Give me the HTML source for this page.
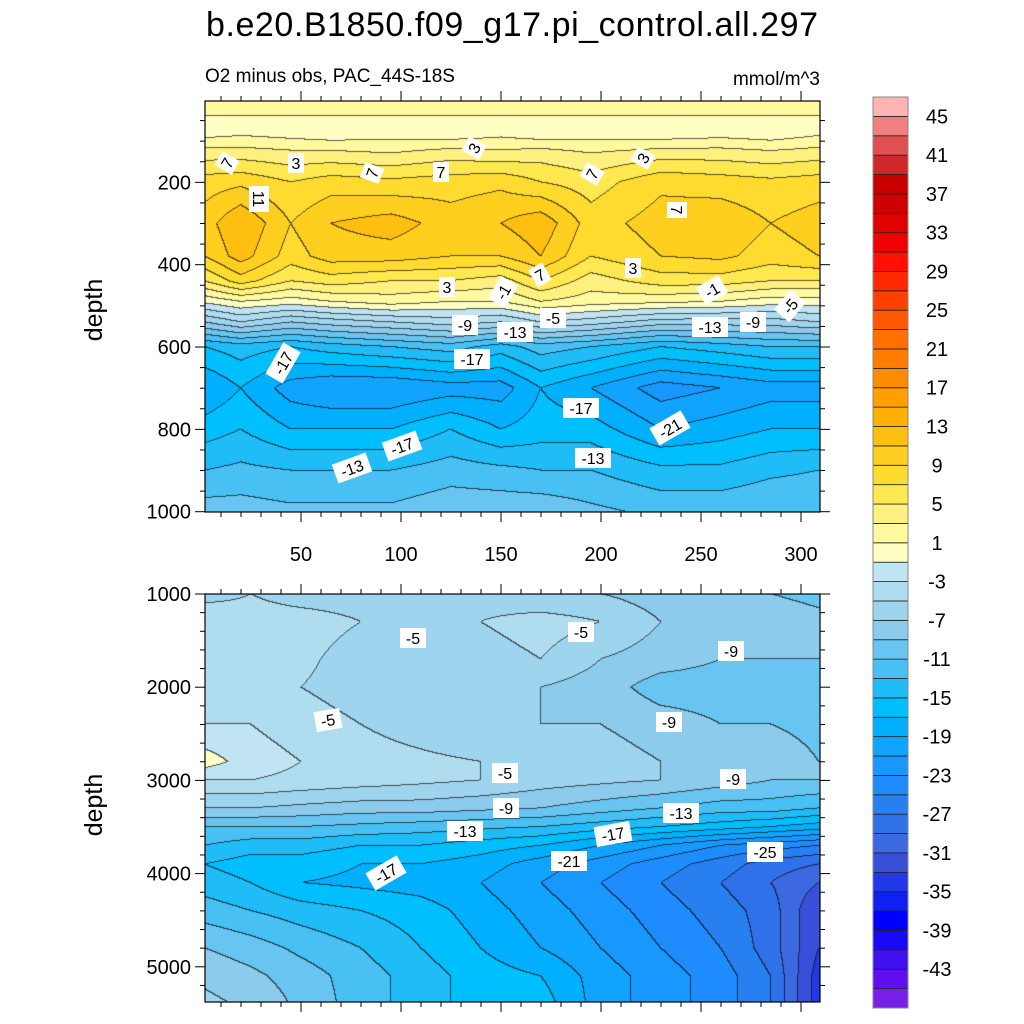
<!DOCTYPE html>
<html><head><meta charset="utf-8"><style>
html,body{margin:0;padding:0;background:#fff;width:1024px;height:1024px;overflow:hidden}
#wrap{position:relative;width:1024px;height:1024px}
canvas{position:absolute}
svg{position:absolute;left:0;top:0}
text{font-family:"Liberation Sans",sans-serif;fill:#000}
</style></head><body>
<div id="wrap">
<canvas id="c1" width="615" height="411" style="left:205px;top:101px"></canvas>
<canvas id="c2" width="615" height="408" style="left:205px;top:594px"></canvas>
<svg id="s" width="1024" height="1024">
<text x="512" y="36" font-size="34" text-anchor="middle" textLength="612">b.e20.B1850.f09_g17.pi_control.all.297</text>
<text x="205" y="82" font-size="19">O2 minus obs, PAC_44S-18S</text>
<text x="820" y="85" font-size="19" text-anchor="end">mmol/m^3</text>
<text transform="translate(102,310) rotate(-90)" font-size="25" text-anchor="middle">depth</text>
<text transform="translate(102,805) rotate(-90)" font-size="25" text-anchor="middle">depth</text>
</svg>
</div>
<script>
// ---- data ----
const levelColors = ["#7820e8","#6010f0","#4010f0","#1a08f8","#0000ff","#1020f0","#2038e8","#3850d8","#3c68e0","#3070e8","#2880f0","#1e8cff","#1898ff","#10a4ff","#00b0ff","#00bfff","#20bcf8","#48c0f4","#68c4f0","#8ccbec","#9fd4ee","#b0dcf0","#c0e4f4","#ffffc4","#fffaa0","#fff080","#ffe850","#ffdb30","#ffcf20","#ffbf10","#ffb000","#ffa000","#ff8c00","#ff7c00","#ff7000","#ff5800","#ff4000","#ff2800","#ff1000","#f00000","#e00000","#d00000","#c80000","#d02828","#e05050","#f08080","#ffb4b4"];
const cbLabels = [45,41,37,33,29,25,21,17,13,9,5,1,-3,-7,-11,-15,-19,-23,-27,-31,-35,-39,-43];
const xTicks = [50,100,150,200,250,300];
const topDepthTicks = [200,400,600,800,1000];
const botDepthTicks = [1000,2000,3000,4000,5000];

const topX = [2,20,45,65,95,125,150,170,195,230,260,285,309];
const topD = [0,40,80,130,200,300,380,440,490,540,600,700,800,900,1000];
const topV = [
[2,2,2,2,2,2,2,2,2,2,2,2,2],
[1,1,1,1,1,1,1,1,1,1,1,1,1],
[0,0.5,0,-0.5,0,-0.5,0.3,-0.5,0,-0.5,0,-0.5,0.5],
[4,4,3.5,3.5,3,4,3.5,4,3,4,4,3.5,4],
[8,8.5,7,8,7.5,8,8.5,7,6,8.5,8,7.5,8],
[10,13,9,11,12,10,11,12.5,8,10,10.5,9,10],
[9,12,8,10,10,9,9,11,7,9,9.5,8,9],
[5,8,5,6,5,5,4,7,4,6,6,5,5],
[-0.5,1,0,1,2,1,1,3,2,1.5,1,0,0],
[-7,-5,-7,-6,-5,-4,-5,-3,-4,-6,-6,-6,-5],
[-15,-14,-15,-14,-13,-12,-14,-12,-13,-15,-14,-13,-13],
[-19,-17,-20,-21,-21,-20,-20,-17,-19,-22,-21,-20,-20],
[-16,-15,-17,-17,-17,-15,-17,-16,-16,-19,-18,-17,-17],
[-13,-12.5,-13,-13,-13,-12,-12.5,-13,-13,-14.5,-14.5,-13.5,-13],
[-10,-10,-10.5,-10.5,-10.5,-9.5,-9.5,-9.5,-10.5,-11.5,-11.5,-11,-11]];

const botX = [2,25,50,80,110,140,170,200,230,260,285,309];
const botD = [1000,1300,1700,2000,2400,2800,3000,3300,3500,3700,3900,4100,4400,4800,5100,5380];
const botV = [
[-6,-5,-6,-6,-6,-6,-7,-7,-8,-9,-9,-10],
[-3,-4,-4,-5,-5,-5,-4,-5,-7,-7,-7,-8],
[-3,-4,-4.5,-6,-6,-6,-5,-7,-8,-9,-9,-9],
[-3,-4,-5,-6,-7,-7,-7,-8,-10,-10,-9,-10],
[-3,-3,-4,-5,-6,-7,-7,-7,-8,-9,-9,-9.5],
[0,-2,-3,-4,-4.5,-5,-6,-6,-7,-7,-8,-9],
[-3,-3,-3.5,-4,-4.5,-5,-6,-6.5,-7,-8,-9,-9],
[-7,-7,-7.5,-8,-8,-8.5,-9,-10,-11,-12,-12,-13],
[-11,-11,-11,-11.5,-12,-12.5,-13,-14,-15,-16,-17,-18],
[-13,-14,-14,-15,-15,-16,-17,-19,-21,-23,-24,-25],
[-15,-16,-16,-17,-17,-18,-20,-22,-24,-26,-28,-29],
[-14,-15,-17,-17.5,-18,-19,-21,-23,-25,-27,-29,-31],
[-12,-13,-14,-15,-16,-18,-20,-22,-24,-26,-28,-33],
[-9,-10,-11.5,-13,-15,-17,-19,-21,-23,-25,-28,-33],
[-7.5,-8.5,-10,-12,-14,-16,-17,-20,-22,-24,-27,-34],
[-6.5,-7.5,-9.5,-12,-14,-16,-16,-20,-22,-24,-27,-34]];

// ---- scales ----
const X0=205,X1=820,VX0=2,VX1=309.5;
const sx = v => X0 + (v-VX0)/(VX1-VX0)*(X1-X0);
const syTop = d => 100 + d*0.4117;
const syBot = d => 594 + (d-1000)*0.0932;

function interp(xs,ds,vals,x,d){
  let i=0; while(i<xs.length-2 && x>xs[i+1]) i++;
  let j=0; while(j<ds.length-2 && d>ds[j+1]) j++;
  let tx=Math.min(1,Math.max(0,(x-xs[i])/(xs[i+1]-xs[i])));
  let ty=Math.min(1,Math.max(0,(d-ds[j])/(ds[j+1]-ds[j])));
  const a=vals[j][i],b=vals[j][i+1],c=vals[j+1][i],e=vals[j+1][i+1];
  return (a*(1-tx)+b*tx)*(1-ty)+(c*(1-tx)+e*tx)*ty;
}
function cls(v){ let k=Math.floor((v+47)/2); return Math.max(0,Math.min(46,k)); }
function hex(h){return [parseInt(h.substr(1,2),16),parseInt(h.substr(3,2),16),parseInt(h.substr(5,2),16)];}
const rgb = levelColors.map(hex);

function field(id,xs,ds,vals,yToD,top){
  const cv=document.getElementById(id),ctx=cv.getContext('2d');
  const W=cv.width,H=cv.height,img=ctx.createImageData(W,H);
  const K=new Int16Array(W*H);
  for(let py=0;py<H;py++){const d=yToD(top+py+0.5);
    for(let px=0;px<W;px++){const v=VX0+(px+0.5)/W*(VX1-VX0);
      K[py*W+px]=cls(interp(xs,ds,vals,v,d));}}
  for(let py=0;py<H;py++)for(let px=0;px<W;px++){
    const k=K[py*W+px];let c=rgb[k];
    const edge=(px<W-1&&K[py*W+px+1]!==k)||(py<H-1&&K[(py+1)*W+px]!==k);
    const o=(py*W+px)*4;
    if(edge){img.data[o]=c[0]*0.35;img.data[o+1]=c[1]*0.35;img.data[o+2]=c[2]*0.35;}
    else{img.data[o]=c[0];img.data[o+1]=c[1];img.data[o+2]=c[2];}
    img.data[o+3]=255;}
  ctx.putImageData(img,0,0);
}
field('c1',topX,topD,topV,y=>(y-100)/0.4117,101);
field('c2',botX,botD,botV,y=>(y-594)/0.0932+1000,594);

// ---- axes ----
const S=document.getElementById('s'),NS='http://www.w3.org/2000/svg';
function el(t,a){const e=document.createElementNS(NS,t);for(const k in a)e.setAttribute(k,a[k]);S.appendChild(e);return e;}
function line(x1,y1,x2,y2,w){return el('line',{x1,y1,x2,y2,stroke:'#000','stroke-width':w||1});}

function frame(top,bot,yFn,dMin,dMax,minorStep,majors,name){
  const r=el('rect',{x:X0,y:top,width:X1-X0,height:bot-top,fill:'none',stroke:'#000','stroke-width':1.2});
  
  
  for(let v=10;v<=300;v+=10){const x=sx(v),mj=v%50===0;
    line(x,top,x,top-(mj?10:5));line(x,bot,x,bot+(mj?10:5));}
  for(let d=Math.ceil(dMin/minorStep)*minorStep;d<=dMax;d+=minorStep){const y=yFn(d);if(y<top-0.5||y>bot+0.5)continue;
    const mj=majors.includes(d);line(X0,y,X0-(mj?10:5),y);line(X1,y,X1+(mj?10:5),y);}
  majors.forEach(d=>{const t=el('text',{x:X0-14,y:yFn(d)+7,'font-size':20,'text-anchor':'end'});t.textContent=d;
    
    });
}
frame(101,512,syTop,0,1000,50,topDepthTicks,'upper');
frame(594,1002,syBot,1000,5380,200,botDepthTicks,'lower');
xTicks.forEach(v=>{const t=el('text',{x:sx(v),y:561,'font-size':20,'text-anchor':'middle'});t.textContent=v;
  
  });

// ---- colorbar ----
const CB0=97,CB1=1008,cbH=(CB1-CB0)/47;
for(let i=0;i<47;i++){const y=CB0+(46-i)*cbH;
  const r=el('rect',{x:873,y:y,width:35,height:cbH,fill:levelColors[i],stroke:'#222','stroke-width':0.8});
  
  }
el('rect',{x:873,y:CB0,width:35,height:CB1-CB0,fill:'none',stroke:'#888','stroke-width':1});
cbLabels.forEach(v=>{const y=CB0+(47-v)/2*cbH;const t=el('text',{x:937,y:y+7,'font-size':20,'text-anchor':'middle'});t.textContent=v;
  
  });

// ---- contour labels ----
const labels=[
[227,163,'7',-60],[296,163,'3',0],[372,173,'7',-70],[441,172,'7',0],[474,148,'3',-60],[592,174,'7',-60],[643,158,'3',-60],[677,210,'7',90],[259,199,'11',90],
[447,287,'3',0],[540,275,'7',-30],[633,268,'3',0],[503,292,'-1',-60],[712,290,'-1',-30],[790,306,'-5',-50],
[465,325,'-9',0],[553,318,'-5',0],[515,332,'-13',0],[710,327,'-13',0],[753,322,'-9',0],[472,359,'-17',0],[283,363,'-17',-60],
[581,408,'-17',0],[670,428,'-21',-30],[402,446,'-17',-20],[352,468,'-13',-20],[593,458,'-13',0],
[413,638,'-5',0],[581,632,'-5',0],[731,651,'-9',0],[328,720,'-5',-10],[669,722,'-9',0],[505,773,'-5',0],[733,779,'-9',0],
[506,808,'-9',0],[465,831,'-13',0],[681,813,'-13',0],[613,834,'-17',-10],[386,873,'-17',-30],[569,861,'-21',0],[765,852,'-25',0]];
labels.forEach(l=>{
  const g=el('g',{transform:`translate(${l[0]},${l[1]}) rotate(${l[3]})`});
  
  
  const w=l[2].length*10+6;
  const r=document.createElementNS(NS,'rect');r.setAttribute('x',-w/2);r.setAttribute('y',-10);r.setAttribute('width',w);r.setAttribute('height',20);r.setAttribute('fill','#fff');g.appendChild(r);
  const t=document.createElementNS(NS,'text');t.setAttribute('x',0);t.setAttribute('y',6);t.setAttribute('font-size',16);t.setAttribute('text-anchor','middle');t.textContent=l[2];g.appendChild(t);
});
</script>
</body></html>
